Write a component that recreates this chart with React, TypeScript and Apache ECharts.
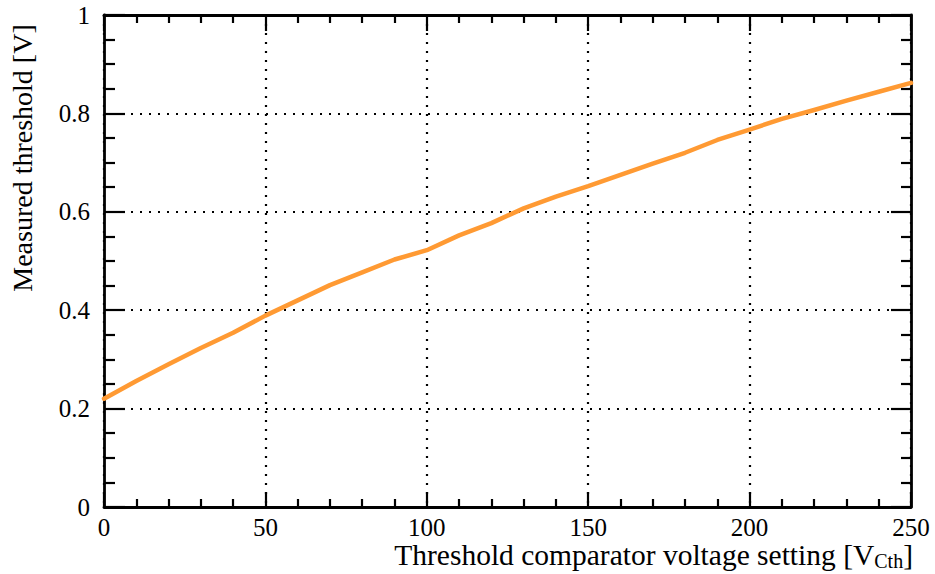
import React, { useEffect, useRef } from "react";
import * as echarts from "echarts";

// Threshold comparator setting (V_Cth) and the measured threshold in volts
const settings = [0, 10, 20, 30, 40, 50, 60, 70, 80, 90, 100, 110, 120, 130, 140, 150, 160, 170, 180, 190, 200, 210, 220, 230, 240, 250];
const measured = [0.22, 0.256, 0.29, 0.323, 0.354, 0.389, 0.42, 0.451, 0.477, 0.503, 0.522, 0.552, 0.577, 0.607, 0.631, 0.652, 0.675, 0.698, 0.72, 0.746, 0.767, 0.789, 0.807, 0.826, 0.844, 0.862];

const FONT = "'Liberation Serif', 'DejaVu Serif', serif";
const INK = "#000";

const X_TITLE = "Threshold comparator voltage setting [V";
const X_TITLE_SUB = "Cth";
const X_TITLE_END = "]";
const Y_TITLE = "Measured threshold [V]";

function textWidth(text: string, font: string): number {
  const ctx = document.createElement("canvas").getContext("2d");
  if (!ctx) return text.length * 10;
  ctx.font = font;
  return ctx.measureText(text).width;
}

export default function App() {
  const ref = useRef<HTMLDivElement>(null);

  useEffect(() => {
    if (!ref.current) return;
    const chart = echarts.init(ref.current, undefined, { renderer: "svg" });

    const titleFont = `29.5px ${FONT}`;
    const subFont = `20px ${FONT}`;
    const rightEdge = 913;
    const titleY = 555;
    const endW = textWidth(X_TITLE_END, titleFont);
    const subW = textWidth(X_TITLE_SUB, subFont);

    const tickX = (major: number, minor: number, labels: boolean) => ({
      axisLine: { show: true, onZero: false, lineStyle: { color: INK, width: 2.8 } },
      axisTick: { show: true, inside: true, length: major, lineStyle: { color: INK, width: 2.2 } },
      minorTick: { show: true, splitNumber: 5, length: minor, lineStyle: { color: INK, width: 2.2 } },
      axisLabel: { show: labels, color: INK, fontFamily: FONT, fontSize: 25, lineHeight: 22, margin: 9 },
    });
    const tickY = (major: number, minor: number, labels: boolean) => ({
      axisLine: { show: true, onZero: false, lineStyle: { color: INK, width: 2.8 } },
      axisTick: { show: true, inside: true, length: major, lineStyle: { color: INK, width: 2.2 } },
      minorTick: { show: true, splitNumber: 4, length: minor, lineStyle: { color: INK, width: 2.2 } },
      axisLabel: { show: labels, color: INK, fontFamily: FONT, fontSize: 25, margin: 14 },
    });
    const dotted = { show: true, lineStyle: { color: INK, width: 2.2, type: [2, 7] as number[] } };

    chart.setOption({
      animation: false,
      backgroundColor: "#fff",
      grid: { left: 104, top: 15, right: 24, bottom: 67, containLabel: false },
      xAxis: [
        {
          type: "value", min: 0, max: 250, interval: 50, position: "bottom",
          ...tickX(15, 8, true),
          splitLine: dotted,
        },
        {
          type: "value", min: 0, max: 250, interval: 50, position: "top",
          ...tickX(16, 8, false),
          splitLine: { show: false },
        },
      ],
      yAxis: [
        {
          type: "value", min: 0, max: 1, interval: 0.2, position: "left",
          ...tickY(21, 11, true),
          splitLine: dotted,
        },
        {
          type: "value", min: 0, max: 1, interval: 0.2, position: "right",
          ...tickY(20, 10, false),
          splitLine: { show: false },
        },
      ],
      series: [
        {
          type: "line",
          data: settings.map((s, i) => [s, measured[i]]),
          showSymbol: false,
          smooth: false,
          clip: false,
          lineStyle: { color: "#ff9a33", width: 4.5, cap: "round", join: "round" },
          z: 5,
        },
      ],
      graphic: [
        {
          type: "text",
          x: 22,
          y: 158,
          rotation: Math.PI / 2,
          style: { text: Y_TITLE, fill: INK, font: `28px ${FONT}`, align: "center", verticalAlign: "middle" },
        },
        {
          type: "text",
          x: rightEdge - endW - subW,
          y: titleY,
          style: { text: X_TITLE, fill: INK, font: titleFont, align: "right", verticalAlign: "middle" },
        },
        {
          type: "text",
          x: rightEdge - endW,
          y: titleY + 6,
          style: { text: X_TITLE_SUB, fill: INK, font: subFont, align: "right", verticalAlign: "middle" },
        },
        {
          type: "text",
          x: rightEdge,
          y: titleY,
          style: { text: X_TITLE_END, fill: INK, font: titleFont, align: "right", verticalAlign: "middle" },
        },
      ],
    });

    return () => chart.dispose();
  }, []);

  return (
    <div
      ref={ref}
      style={{ position: "absolute", left: 0, top: 0, width: 935, height: 574 }}
    />
  );
}
